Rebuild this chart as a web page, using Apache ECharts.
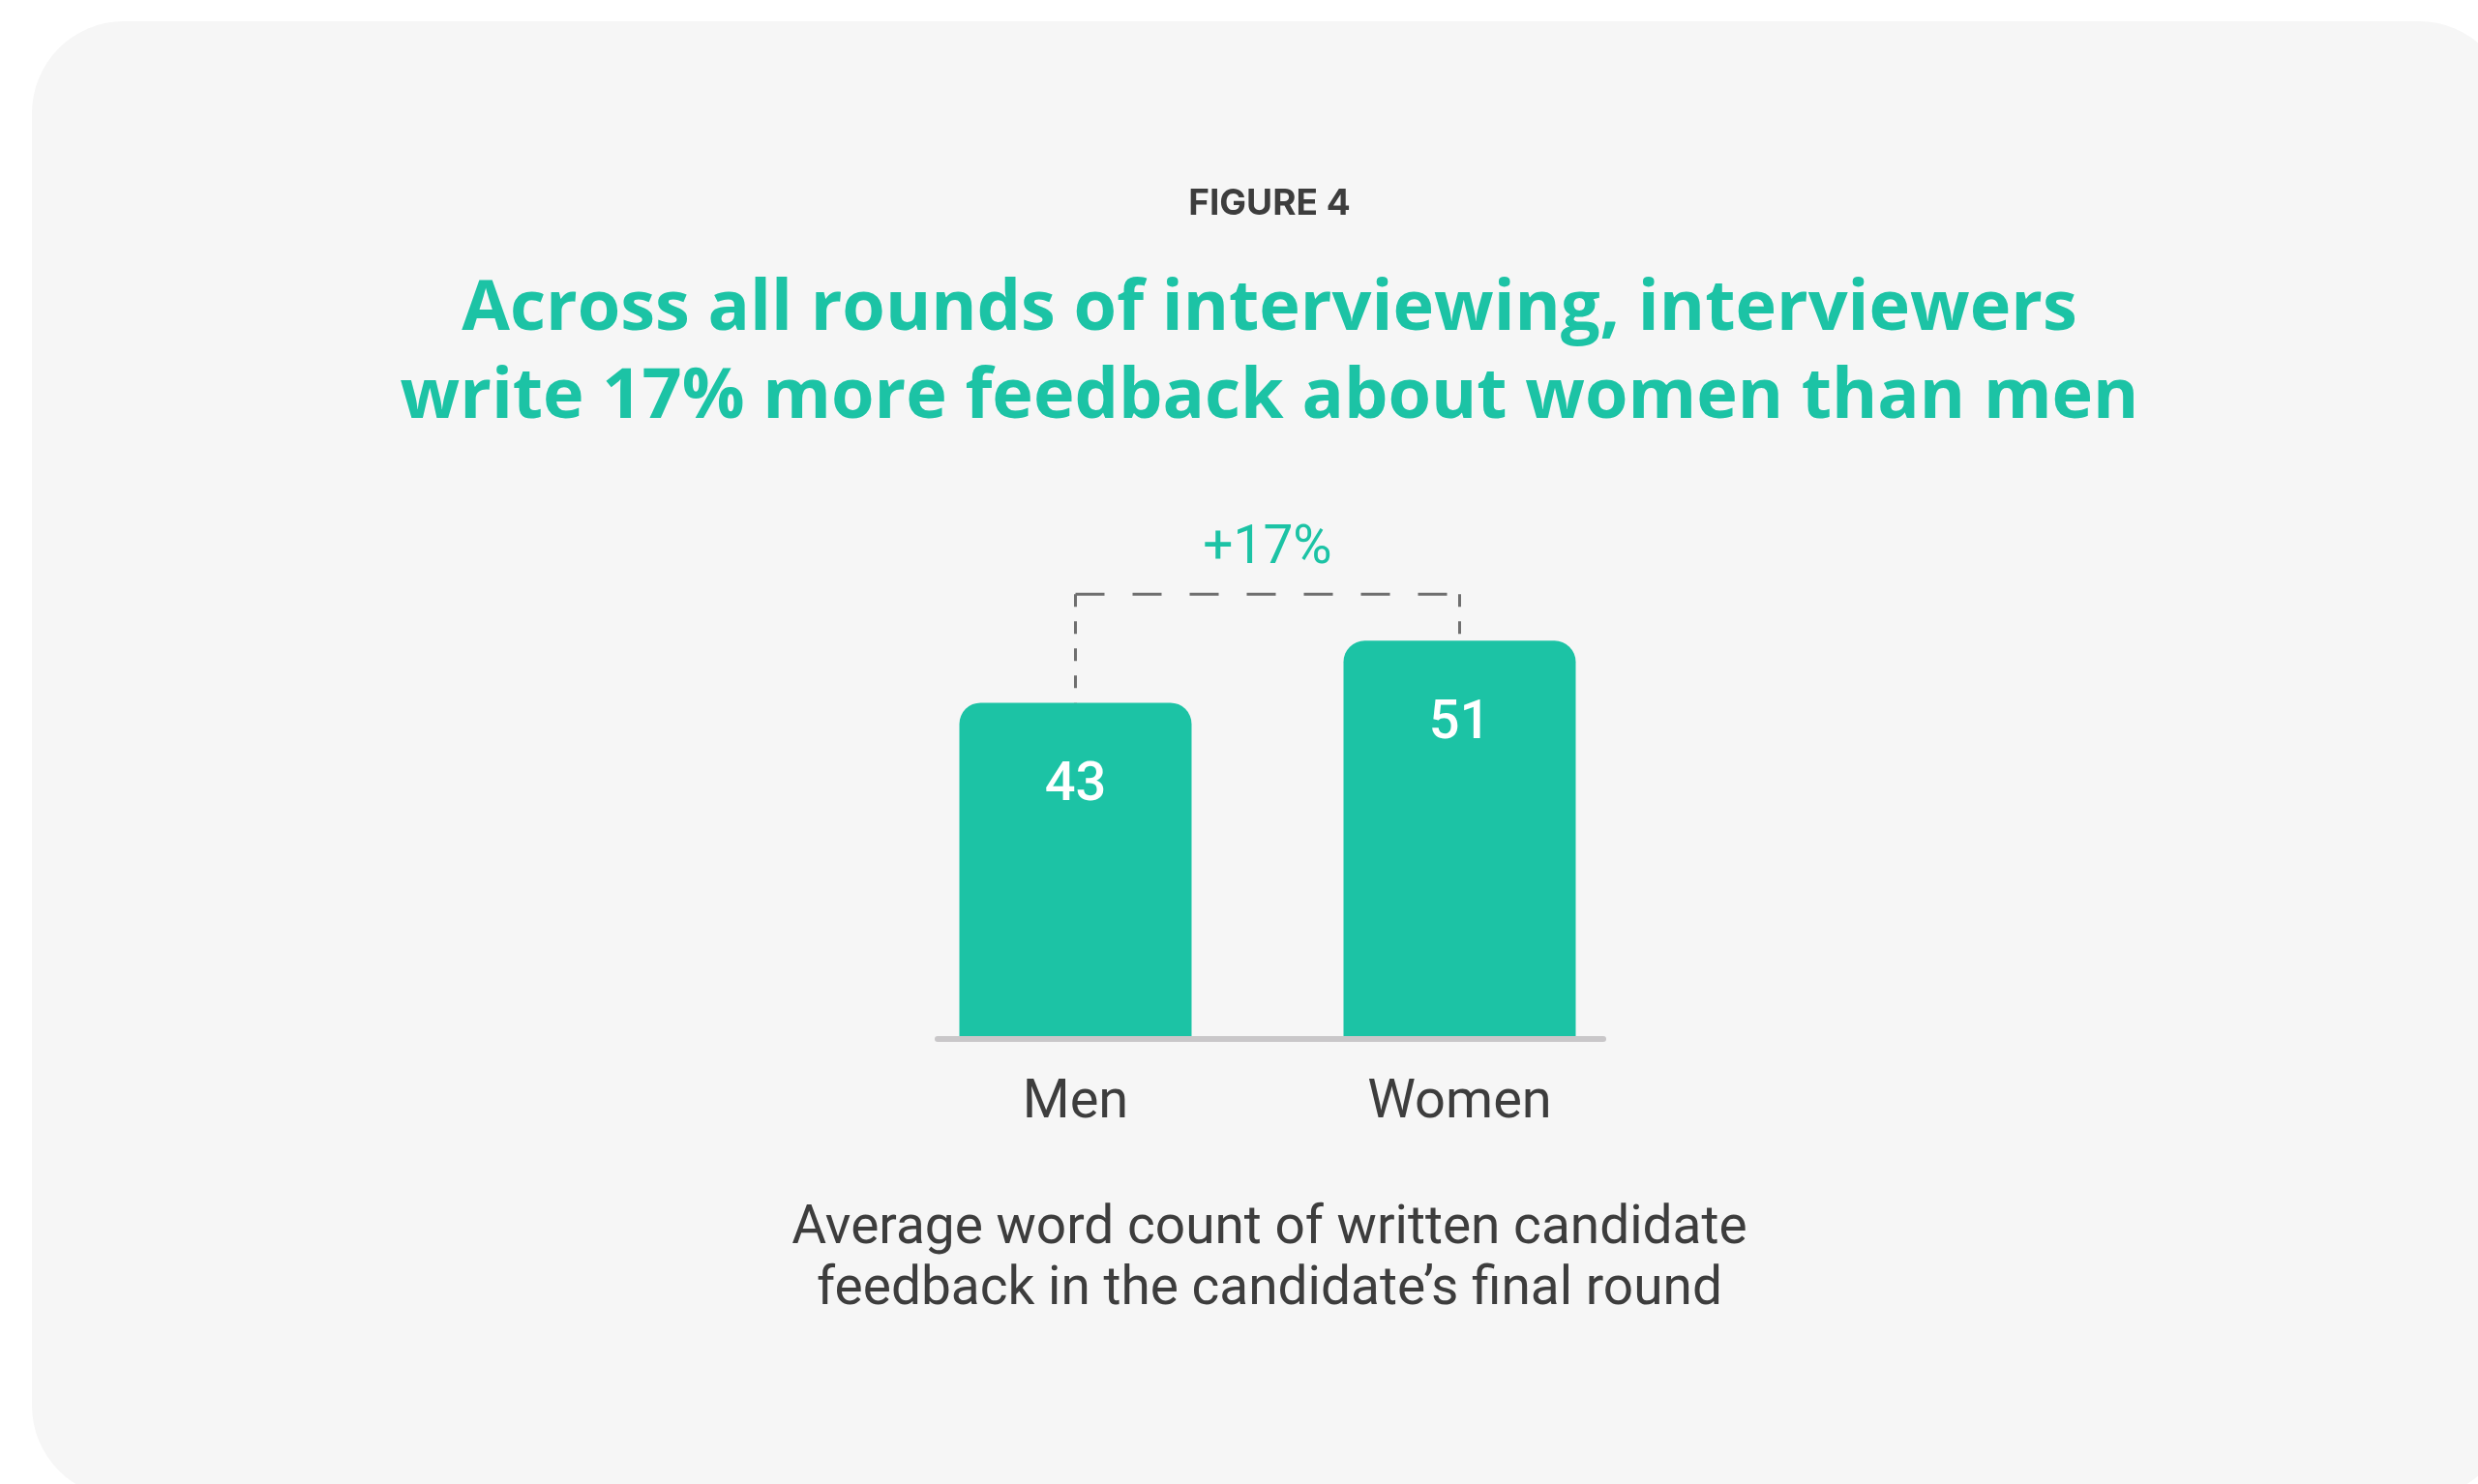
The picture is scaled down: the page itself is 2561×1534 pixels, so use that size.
<!DOCTYPE html>
<html>
<head>
<meta charset="utf-8">
<style>
  html, body { margin: 0; padding: 0; background: #ffffff; }
  #chart { width: 2561px; height: 1534px; }
</style>
<script src="https://cdn.jsdelivr.net/npm/echarts@6/dist/echarts.min.js"></script>
</head>
<body>
<div id="chart"></div>
<script>
// Average word count of written feedback, by candidate gender
const categories = ['Men', 'Women'];
const wordCounts = [43, 51];
const differenceLabel = '+17%';

const figureLabel = 'FIGURE 4';
const headlineLines = [
  'Across all rounds of interviewing, interviewers',
  'write 17% more feedback about women than men'
];
const captionLines = [
  'Average word count of written candidate',
  'feedback in the candidate\u2019s final round'
];

const TEAL = '#1cc3a5';
const INK = '#3d3d3d';
const BODY_FONT = 'Roboto, "Noto Sans", sans-serif';
const HEAD_FONT = '"Open Sans", "Noto Sans", sans-serif';
const CX = 1312;

const chart = echarts.init(document.getElementById('chart'), null, { renderer: 'canvas' });

// Dashed bracket joining the two bar tops, with the difference label above it
function renderBracket(params, api) {
  const level = Math.max.apply(null, wordCounts) + 6;
  const aTop = api.coord([0, wordCounts[0]]);
  const aHigh = api.coord([0, level]);
  const bTop = api.coord([1, wordCounts[1]]);
  const bHigh = api.coord([1, level]);
  const lineStyle = { stroke: '#6f6f6f', lineWidth: 3, fill: null };
  return {
    type: 'group',
    children: [
      {
        type: 'line',
        shape: { x1: aHigh[0], y1: aHigh[1], x2: aTop[0], y2: aTop[1] },
        style: Object.assign({ lineDash: [13, 15] }, lineStyle)
      },
      {
        type: 'line',
        shape: { x1: aHigh[0], y1: aHigh[1], x2: bHigh[0], y2: bHigh[1] },
        style: Object.assign({ lineDash: [30, 29] }, lineStyle)
      },
      {
        type: 'line',
        shape: { x1: bHigh[0], y1: bHigh[1], x2: bTop[0], y2: bTop[1] },
        style: Object.assign({ lineDash: [13, 15] }, lineStyle)
      },
      {
        type: 'text',
        x: (aHigh[0] + bHigh[0]) / 2,
        y: aHigh[1] - 46,
        style: {
          text: differenceLabel,
          fill: TEAL,
          fontSize: 55,
          fontFamily: BODY_FONT,
          align: 'center',
          verticalAlign: 'middle'
        }
      }
    ]
  };
}

const option = {
  backgroundColor: '#ffffff',
  animation: false,
  graphic: [
    {
      type: 'rect',
      silent: true,
      z: -10,
      shape: { x: 33, y: 22, width: 2562, height: 1526, r: 95 },
      style: { fill: '#f6f6f6' }
    },
    {
      type: 'text', x: CX, y: 211,
      style: { text: figureLabel, fill: INK, fontSize: 37, fontWeight: 'bold',
               fontFamily: 'Inter, Roboto, sans-serif', align: 'center', verticalAlign: 'middle' }
    },
    {
      type: 'text', x: CX, y: 320,
      style: { text: headlineLines[0], fill: TEAL, fontSize: 72, fontWeight: 'bold',
               fontFamily: HEAD_FONT, align: 'center', verticalAlign: 'middle' }
    },
    {
      type: 'text', x: CX, y: 411,
      style: { text: headlineLines[1], fill: TEAL, fontSize: 72, fontWeight: 'bold',
               fontFamily: HEAD_FONT, align: 'center', verticalAlign: 'middle' }
    },
    {
      type: 'text', x: CX, y: 1271,
      style: { text: captionLines[0], fill: INK, fontSize: 55,
               fontFamily: BODY_FONT, align: 'center', verticalAlign: 'middle' }
    },
    {
      type: 'text', x: CX, y: 1334,
      style: { text: captionLines[1], fill: INK, fontSize: 55,
               fontFamily: BODY_FONT, align: 'center', verticalAlign: 'middle' }
    }
  ],
  grid: [
    // plotting area for the bars
    { left: 913, right: 854, top: 510, bottom: 463, containLabel: false },
    // wider-than-bars baseline rule
    { left: 969, right: 904, top: 510, bottom: 460, containLabel: false }
  ],
  xAxis: [
    {
      gridIndex: 0,
      type: 'category',
      data: categories,
      axisLine: { show: false },
      axisTick: { show: false },
      axisLabel: { color: INK, fontSize: 56, fontFamily: BODY_FONT, margin: 42 }
    },
    {
      gridIndex: 1,
      type: 'value',
      min: 0,
      max: 1,
      axisLine: { show: true, lineStyle: { color: '#c9c7c9', width: 6 } },
      axisTick: { show: false },
      axisLabel: { show: false },
      splitLine: { show: false }
    }
  ],
  yAxis: [
    { gridIndex: 0, type: 'value', min: 0, max: 70, show: false, splitLine: { show: false } },
    { gridIndex: 1, type: 'value', min: 0, max: 1, show: false, splitLine: { show: false } }
  ],
  series: [
    {
      type: 'bar',
      xAxisIndex: 0,
      yAxisIndex: 0,
      data: wordCounts,
      barWidth: 240,
      itemStyle: { color: TEAL, borderRadius: [22, 22, 0, 0] },
      label: {
        show: true,
        position: 'insideTop',
        distance: 59,
        color: '#ffffff',
        fontSize: 56,
        fontWeight: 500,
        fontFamily: BODY_FONT
      },
      z: 3
    },
    {
      type: 'custom',
      xAxisIndex: 0,
      yAxisIndex: 0,
      data: [[0, 0]],
      clip: false,
      renderItem: renderBracket,
      z: 4
    }
  ]
};

chart.setOption(option);
</script>
</body>
</html>
